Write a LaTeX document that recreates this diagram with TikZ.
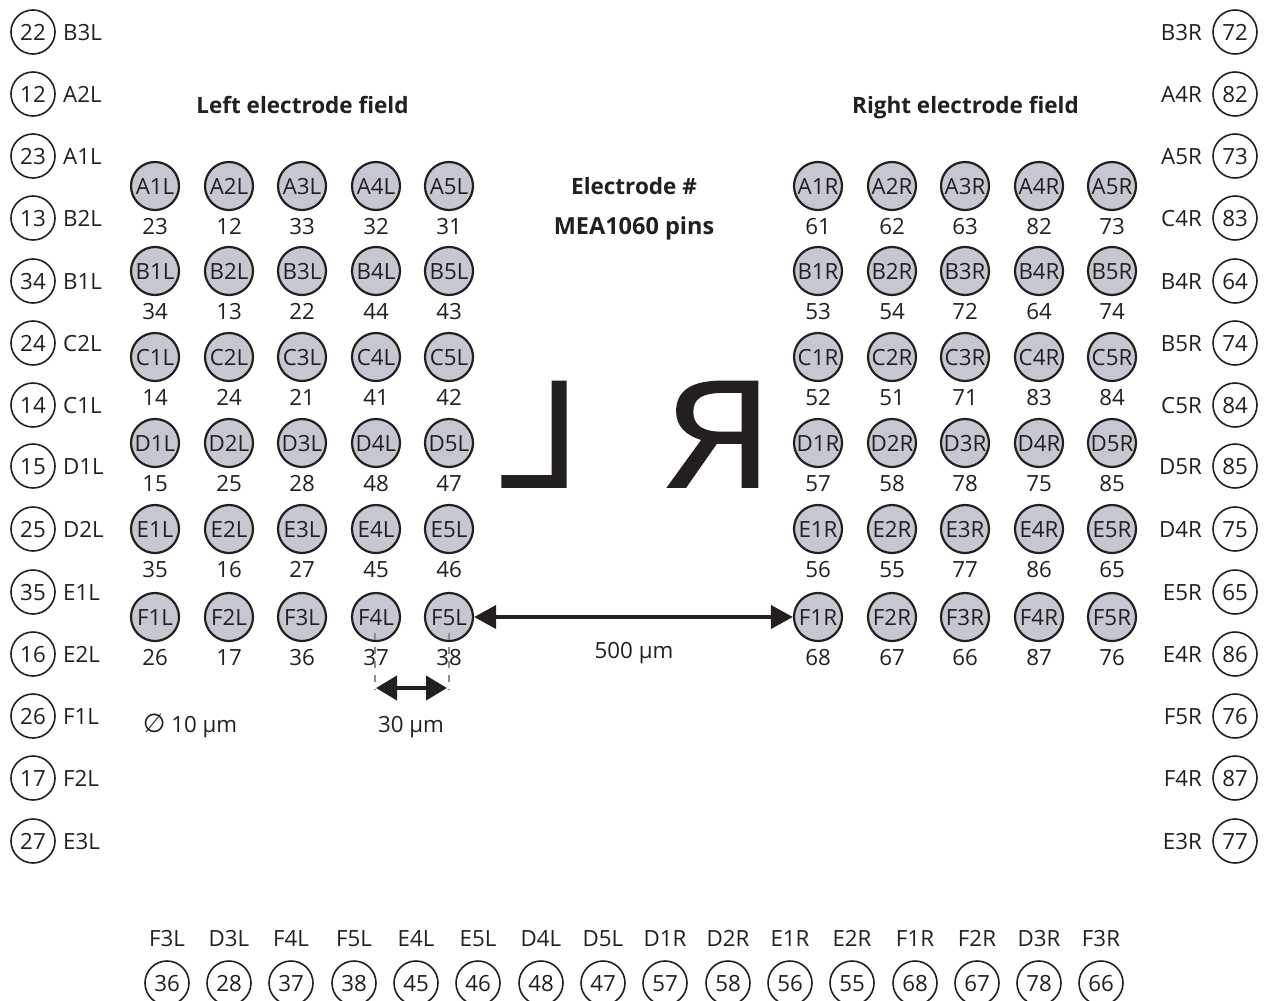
\documentclass[tikz,border=0pt]{standalone}
\usepackage{fontspec}
\setmainfont{Open Sans}
\newfontfamily\symfont{DejaVu Sans}
\newfontfamily\bigfont[FakeBold=1.1]{Open Sans}
\usetikzlibrary{arrows.meta}
\definecolor{ink}{HTML}{231F20}
\definecolor{elec}{HTML}{C6C8D1}
\definecolor{tick}{HTML}{8A8C90}
\begin{document}
\begin{tikzpicture}[x=1pt,y=-1pt,
  every node/.style={text=ink,font=\fontsize{22.3}{26}\selectfont,inner sep=0pt,text height=16pt,text depth=0pt},
  electrode/.style={circle,draw=ink,line width=2.2pt,fill=elec,minimum size=48pt},
  pin/.style={circle,draw=ink,line width=1.6pt,fill=white,minimum size=44pt},
  heading/.style={font=\fontsize{22.5}{26}\selectfont\bfseries},
  bigletter/.style={font=\fontsize{148}{150}\selectfont\bigfont,anchor=base,text height=107pt},
  longarrow/.style={draw=ink,line width=4pt,{Triangle[length=22pt,width=23pt]}-{Triangle[length=22pt,width=23pt]}},
  shortarrow/.style={draw=ink,line width=4pt,{Triangle[length=21pt,width=24pt]}-{Triangle[length=21pt,width=24pt]}},
  ticks/.style={draw=tick,line width=1.5pt,dash pattern=on 7pt off 7pt}]
\useasboundingbox (0,0) rectangle (1266,1001);
% headings
\node[heading] (lefthead) at (302.5,105) {Left electrode field};
\node[heading] (righthead) at (965.5,105) {Right electrode field};
\node[heading] (elnum) at (634,186) {Electrode \#};
\node[heading,font=\fontsize{23.5}{26}\selectfont\bfseries] (meapins) at (634,226) {MEA1060 pins};
% mirrored letters
\node[bigletter,xscale=-1.08] (bigL) at (540,487) {L};
\node[bigletter,xscale=-1.2] (bigR) at (720,487) {R};
% electrode fields
\foreach \nm/\xx/\yy/\pn in {
 A1L/155/186/23,A2L/229/186/12,A3L/302/186/33,A4L/376/186/32,A5L/449/186/31,
 B1L/155/271/34,B2L/229/271/13,B3L/302/271/22,B4L/376/271/44,B5L/449/271/43,
 C1L/155/357/14,C2L/229/357/24,C3L/302/357/21,C4L/376/357/41,C5L/449/357/42,
 D1L/155/443/15,D2L/229/443/25,D3L/302/443/28,D4L/376/443/48,D5L/449/443/47,
 E1L/155/529/35,E2L/229/529/16,E3L/302/529/27,E4L/376/529/45,E5L/449/529/46,
 F1L/155/617/26,F2L/229/617/17,F3L/302/617/36,F4L/376/617/37,F5L/449/617/38,
 A1R/818/186/61,A2R/892/186/62,A3R/965/186/63,A4R/1039/186/82,A5R/1112/186/73,
 B1R/818/271/53,B2R/892/271/54,B3R/965/271/72,B4R/1039/271/64,B5R/1112/271/74,
 C1R/818/357/52,C2R/892/357/51,C3R/965/357/71,C4R/1039/357/83,C5R/1112/357/84,
 D1R/818/443/57,D2R/892/443/58,D3R/965/443/78,D4R/1039/443/75,D5R/1112/443/85,
 E1R/818/529/56,E2R/892/529/55,E3R/965/529/77,E4R/1039/529/86,E5R/1112/529/65,
 F1R/818/617/68,F2R/892/617/67,F3R/965/617/66,F4R/1039/617/87,F5R/1112/617/76}{
  \node[electrode] (\nm) at (\xx,\yy) {\nm};
  \node (num\nm) at (\xx,\yy+40) {\pn};
}
% left column of pins
\foreach \pn/\yy/\lb in {22/32/B3L,12/94/A2L,23/156/A1L,13/218/B2L,34/281/B1L,24/343/C2L,14/405/C1L,15/466/D1L,25/529/D2L,35/592/E1L,16/654/E2L,26/716/F1L,17/778/F2L,27/841/E3L}{
  \node[pin] (pin\pn) at (33,\yy) {\pn};
  \node[anchor=west] (lab\pn) at (63,\yy) {\lb};
}
% right column of pins
\foreach \pn/\yy/\lb in {72/32/B3R,82/94/A4R,73/156/A5R,83/218/C4R,64/281/B4R,74/343/B5R,84/405/C5R,85/466/D5R,75/529/D4R,65/592/E5R,86/654/E4R,76/716/F5R,87/778/F4R,77/841/E3R}{
  \node[pin] (pin\pn) at (1235,\yy) {\pn};
  \node[anchor=east] (lab\pn) at (1202,\yy) {\lb};
}
% bottom row of pins
\foreach \pn/\xx/\lb in {36/167/F3L,28/229/D3L,37/291/F4L,38/354/F5L,45/416/E4L,46/478/E5L,48/541/D4L,47/603/D5L,57/665/D1R,58/728/D2R,56/790/E1R,55/852/E2R,68/915/F1R,67/977/F2R,78/1039/D3R,66/1101/F3R}{
  \node[pin] (pin\pn) at (\xx,983) {\pn};
  \node (lab\pn) at (\xx,938) {\lb};
}
% dimensions
\draw[longarrow] (F5L) -- (F1R);
\node (gap) at (634,650) {500 µm};
\coordinate (tickLa) at (375,633);
\coordinate (tickLb) at (375,690);
\coordinate (tickRa) at (449,633);
\coordinate (tickRb) at (449,690);
\draw[ticks] (tickLa) -- (tickLb);
\draw[ticks] (tickRa) -- (tickRb);
\coordinate (dimL) at (376,688);
\coordinate (dimR) at (447,688);
\draw[shortarrow] (dimL) -- (dimR);
\node (pitch) at (411,724) {30 µm};
\node (diam) at (190,724) {{\symfont\fontsize{26}{26}\selectfont ∅} 10 µm};
\end{tikzpicture}
\end{document}
